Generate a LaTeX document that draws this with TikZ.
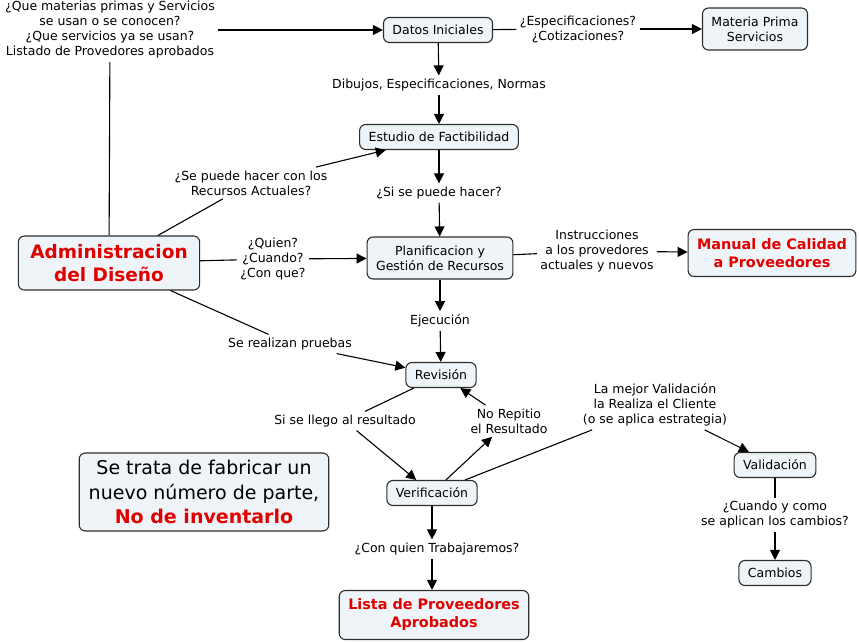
\documentclass[tikz,border=0pt]{standalone}
\usepackage{fontspec}
\setmainfont{DejaVu Sans}
\usetikzlibrary{arrows.meta}
\definecolor{boxfill}{RGB}{238,244,247}
\definecolor{boxline}{RGB}{45,45,45}
\definecolor{titlered}{RGB}{225,0,0}
\newcommand{\rd}[1]{\textcolor{titlered}{\bfseries #1}}

\begin{document}
\begin{tikzpicture}[x=1pt, y=-1pt, line width=1.1pt,
  concept/.style={draw=boxline, fill=boxfill, rounded corners=6pt, align=center,
    inner xsep=9pt, inner ysep=7pt, minimum height=25pt, font=\fontsize{12.5}{15}\selectfont},
  twoline/.style={concept, minimum height=42pt},
  bigconcept/.style={concept, inner xsep=12pt, minimum height=54pt, text=titlered, font=\fontsize{18.5}{23}\selectfont\bfseries},
  redconcept/.style={concept, minimum height=47pt, text=titlered, font=\fontsize{14.4}{18}\selectfont\bfseries},
  phrase/.style={align=center, inner sep=3pt, font=\fontsize{12.5}{15}\selectfont},
  link/.style={-{Triangle[length=10pt,width=10pt]}}]
  \useasboundingbox (0,0) rectangle (859,642);

  \node[phrase] (preg) at (110,30) {¿Que materias primas y Servicios\\se usan o se conocen?\\¿Que servicios ya se usan?\\Listado de Provedores aprobados};
  \node[concept] (datos) at (438,30) {Datos Iniciales};
  \node[phrase] (espec) at (578,29) {¿Especificaciones?\\¿Cotizaciones?};
  \node[twoline] (materia) at (755,29) {Materia Prima\\Servicios};
  \node[phrase] (dibujos) at (439,85) {Dibujos, Especificaciones, Normas};
  \node[concept] (estudio) at (439,137) {Estudio de Factibilidad};
  \node[phrase] (recursos) at (251,183) {¿Se puede hacer con los\\Recursos Actuales?};
  \node[phrase] (sipuede) at (439,193) {¿Si se puede hacer?};
  \node[bigconcept] (admin) at (109,263) {Administracion\\del Diseño};
  \node[phrase] (quien) at (273,259) {¿Quien?\\¿Cuando?\\¿Con que?};
  \node[twoline] (planif) at (440,258) {Planificacion y\\Gestión de Recursos};
  \node[phrase] (instr) at (597,251) {Instrucciones\\a los provedores\\actuales y nuevos};
  \node[redconcept] (manual) at (772,253) {Manual de Calidad\\a Proveedores};
  \node[phrase] (ejec) at (440,321) {Ejecución};
  \node[phrase] (pruebas) at (290,344) {Se realizan pruebas};
  \node[concept] (revision) at (441,375) {Revisión};
  \node[phrase] (llego) at (345,421) {Si se llego al resultado};
  \node[phrase] (norep) at (509,421) {No Repitio\\el Resultado};
  \node[phrase] (mejor) at (655,405) {La mejor Validación\\la Realiza el Cliente\\(o se aplica estrategia)};
  \node[concept] (valid) at (775,465) {Validación};
  \node[concept] (verif) at (432,493) {Verificación};
  \node[concept, inner xsep=9.5pt, minimum height=78pt, font=\fontsize{19}{24.5}\selectfont] (nota) at (204,492)
    {Se trata de fabricar un\\nuevo número de parte,\\\rd{No de inventarlo}};
  \node[phrase] (cuando) at (775,515) {¿Cuando y como\\se aplican los cambios?};
  \node[concept] (cambios) at (775,573) {Cambios};
  \node[phrase] (conquien) at (437,549) {¿Con quien Trabajaremos?};
  \node[redconcept, minimum height=49pt] (lista) at (434,615) {Lista de Proveedores\\Aprobados};

  % enlaces
  \draw (admin) -- (preg);
  \draw[link] (preg) -- (datos);
  \draw (datos) -- (espec);
  \draw[link] (espec) -- (materia);
  \draw[link] (datos) -- (dibujos);
  \draw[link] (dibujos) -- (estudio);
  \draw (admin) -- (recursos);
  \draw[link] (recursos) -- (estudio);
  \draw[link] (estudio) -- (sipuede);
  \draw[link] (sipuede) -- (planif);
  \draw (admin) -- (quien);
  \draw[link] (quien) -- (planif);
  \draw (planif) -- (instr);
  \draw[link] (instr) -- (manual);
  \draw[link] (planif) -- (ejec);
  \draw[link] (ejec) -- (revision);
  \draw (admin) -- (pruebas);
  \draw[link] (pruebas) -- (revision);
  \draw (revision) -- (llego);
  \draw[link] (llego) -- (verif);
  \draw[link] (verif) -- (norep);
  \draw[link] (norep) -- (revision);
  \draw (verif) -- (mejor);
  \draw[link] (mejor) -- (valid);
  \draw (valid) -- (cuando);
  \draw[link] (cuando) -- (cambios);
  \draw[link] (verif.south) -- (verif.south |- conquien.north);
  \draw[link] (verif.south |- conquien.south) -- (verif.south |- lista.north);
\end{tikzpicture}
\end{document}
